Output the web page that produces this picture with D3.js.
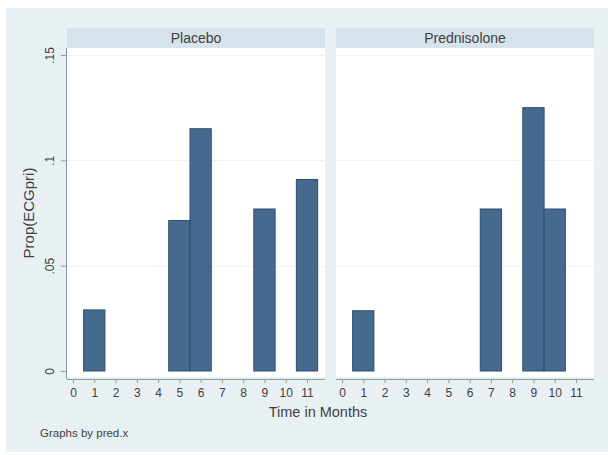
<!DOCTYPE html>
<html>
<head>
<meta charset="utf-8">
<script src="https://cdn.jsdelivr.net/npm/d3@7"></script>
<style>
  html, body { margin: 0; padding: 0; background: #ffffff; }
  svg { display: block; font-family: "Liberation Sans", Arial, Helvetica, sans-serif; }
</style>
</head>
<body>
<svg id="chart" width="608" height="455"></svg>
<script>
// Proportion of ECG events by month, one panel per treatment group
const panels = ["Placebo", "Prednisolone"];
const months = [0, 1, 2, 3, 4, 5, 6, 7, 8, 9, 10, 11];
const placeboMonths = [1, 5, 6, 9, 11];
const placeboProps = [0.029, 0.0714, 0.115, 0.0769, 0.0909];
const prednisoloneMonths = [1, 7, 9, 10];
const prednisoloneProps = [0.0286, 0.0769, 0.125, 0.0769];
const yTicks = [0, 0.05, 0.1, 0.15];
const yTickLabels = ["0", ".05", ".1", ".15"];

const seriesByPanel = [
  placeboMonths.map((m, i) => ({ month: m, value: placeboProps[i] })),
  prednisoloneMonths.map((m, i) => ({ month: m, value: prednisoloneProps[i] }))
];

const svg = d3.select("#chart");

const colors = {
  page: "#e9f0f3",
  strip: "#d7e3ea",
  plot: "#ffffff",
  grid: "#edf2f4",
  axis: "#8d9aa3",
  text: "#404040",
  bar: "#466a8f",
  barEdge: "#2e4d6c"
};

// outer graph region
svg.append("rect")
  .attr("x", 6).attr("y", 8).attr("width", 602).attr("height", 444)
  .attr("fill", colors.page);

// panel geometry
const panelLeft = [67, 336];
const panelWidth = 258;
const stripTop = 28, stripBottom = 48, plotBottom = 377, axisY = 379;

const y = d3.scaleLinear().domain([0, 0.15]).range([371, 55]);

panels.forEach((name, p) => {
  const left = panelLeft[p];
  const x = d3.scaleLinear().domain([0, 11]).range([left + 6, left + 240]);
  const unit = x(1) - x(0);
  const g = svg.append("g");

  // strip with panel label
  g.append("rect")
    .attr("x", left).attr("y", stripTop)
    .attr("width", panelWidth).attr("height", stripBottom - stripTop)
    .attr("fill", colors.strip);
  g.append("text")
    .attr("x", left + panelWidth / 2).attr("y", stripTop + 15)
    .attr("text-anchor", "middle")
    .attr("font-size", 14)
    .attr("fill", colors.text)
    .text(name);

  // plot area
  g.append("rect")
    .attr("x", left).attr("y", stripBottom)
    .attr("width", panelWidth).attr("height", plotBottom - stripBottom)
    .attr("fill", colors.plot);

  // horizontal grid lines
  g.selectAll("line.grid")
    .data(yTicks.slice(1))
    .join("line")
    .attr("class", "grid")
    .attr("x1", left).attr("x2", left + panelWidth)
    .attr("y1", d => Math.round(y(d)) + 0.5).attr("y2", d => Math.round(y(d)) + 0.5)
    .attr("stroke", colors.grid).attr("stroke-width", 1);

  // bars: one month wide, centred on each month
  g.selectAll("rect.bar")
    .data(seriesByPanel[p])
    .join("rect")
    .attr("class", "bar")
    .attr("x", d => x(d.month - 0.5))
    .attr("width", unit)
    .attr("y", d => y(d.value))
    .attr("height", d => y(0) - y(d.value))
    .attr("fill", colors.bar)
    .attr("stroke", colors.barEdge)
    .attr("stroke-width", 1);

  // x axis
  const xAxis = d3.axisBottom(x)
    .tickValues(months)
    .tickFormat(d3.format("d"))
    .tickSize(4)
    .tickPadding(5)
    .tickSizeOuter(0);
  const ax = g.append("g")
    .attr("transform", `translate(0,${axisY})`)
    .call(xAxis);
  ax.select(".domain")
    .attr("d", `M${left},0.5H${left + panelWidth}`)
    .attr("stroke", colors.axis);
  ax.selectAll(".tick line").attr("stroke", colors.axis);
  ax.selectAll(".tick text")
    .attr("font-size", 12)
    .attr("font-family", "\"Liberation Sans\", Arial, sans-serif")
    .attr("fill", colors.text);
});

// y axis on the first panel
const yAxis = d3.axisLeft(y)
  .tickValues(yTicks)
  .tickFormat((d, i) => yTickLabels[i])
  .tickSize(5)
  .tickPadding(4)
  .tickSizeOuter(0);
const ay = svg.append("g")
  .attr("transform", `translate(${panelLeft[0] - 1},0)`)
  .call(yAxis);
ay.select(".domain")
  .attr("d", `M0.5,${stripBottom}V${axisY}`)
  .attr("stroke", colors.axis);
ay.selectAll(".tick line").attr("stroke", colors.axis);
ay.selectAll(".tick text")
  .attr("font-size", 12)
  .attr("font-family", "\"Liberation Sans\", Arial, sans-serif")
  .attr("fill", colors.text)
  .attr("text-anchor", "middle")
  .attr("x", null).attr("dy", null)
  .attr("transform", "translate(-12,0) rotate(-90)");

// axis titles and note
svg.append("text")
  .attr("transform", `translate(34,${(y(0) + y(0.15)) / 2}) rotate(-90)`)
  .attr("text-anchor", "middle")
  .attr("font-size", 15)
  .attr("fill", colors.text)
  .text("Prop(ECGpri)");

svg.append("text")
  .attr("x", 318).attr("y", 417)
  .attr("text-anchor", "middle")
  .attr("font-size", 14.5)
  .attr("fill", colors.text)
  .text("Time in Months");

svg.append("text")
  .attr("x", 40).attr("y", 437)
  .attr("font-size", 11.5)
  .attr("fill", colors.text)
  .text("Graphs by pred.x");
</script>
</body>
</html>
